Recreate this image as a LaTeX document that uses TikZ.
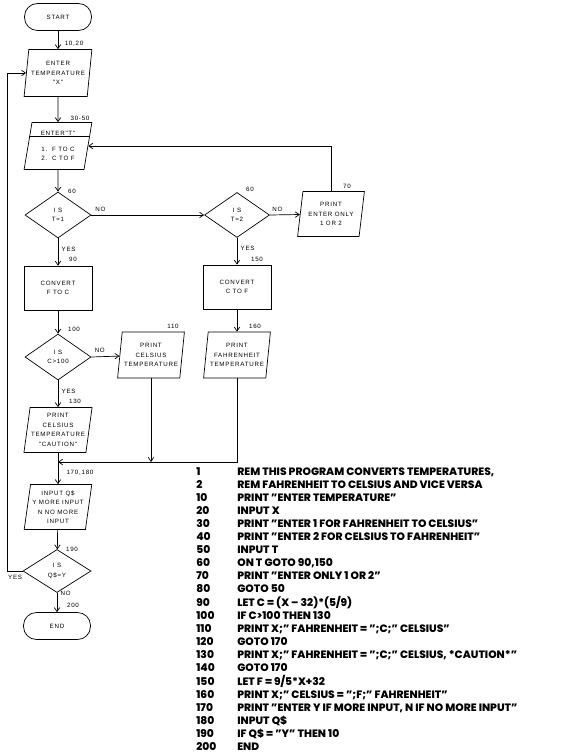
\documentclass[tikz,border=0pt]{standalone}
\usepackage{fontspec}
\usetikzlibrary{shapes.geometric,calc,arrows.meta}
\newfontfamily\flowfont[LetterSpace=12]{Liberation Sans}
\newfontfamily\listfont[Ligatures=TeX]{Poppins ExtraBold}

\tikzset{
    flow/.style={font=\flowfont\fontsize{6.2}{9.5}\selectfont, align=center},
    term/.style={flow, draw, rounded corners=13pt, minimum width=67pt, minimum height=27pt},
    io/.style={flow, draw, trapezium, trapezium left angle=80, trapezium right angle=100,
        trapezium stretches=true, minimum width=68pt, minimum height=47pt, inner sep=1pt},
    proc/.style={flow, draw, minimum width=68pt, minimum height=44pt},
    test/.style={flow, draw, diamond, minimum width=66pt, minimum height=46pt, inner sep=0pt},
    num/.style={flow},
    arr/.style={->}
}

\begin{document}
\begin{tikzpicture}[x=1pt, y=-1pt, line width=0.7pt, >={Straight Barb[length=4pt,width=5.5pt]}]
    \useasboundingbox (0,0) rectangle (564,754);
    % left column
    \node[term] (start) at (58,17) {START};
    \node[io] (enterX) at (58,73) {ENTER\\TEMPERATURE\\"X"};
    \node[io] (enterT) at (58,146) {ENTER"T"\\[6pt]1.\ \ F TO C\\2.\ \ C TO F};
    \draw ($(enterT.top left corner)!0.29!(enterT.bottom left corner)$) -- ($(enterT.top right corner)!0.29!(enterT.bottom right corner)$);
    \node[test] (isT1) at (58,215) {I S\\T=1};
    \node[proc] (convFC) at (58,288) {CONVERT\\F TO C};
    \node[test] (isC100) at (58,357) {I S\\C>100};
    \node[io, minimum width=66pt, minimum height=45pt] (printCaut) at (58,430) {PRINT\\CELSIUS\\TEMPERATURE\\"CAUTION"};
    \node[io, minimum height=45pt] (inputQ) at (58,507) {INPUT Q\$\\Y MORE INPUT\\N NO MORE\\INPUT};
    \node[test, minimum width=68pt, minimum height=43pt] (isQY) at (57,571) {I S\\Q\$=Y};
    \node[term] (finish) at (57,626) {END};
    % middle and right
    \node[io, minimum width=67pt, minimum height=46pt] (printC) at (151,355) {PRINT\\CELSIUS\\TEMPERATURE};
    \node[test, minimum width=65pt, minimum height=45pt] (isT2) at (237,215) {I S\\T=2};
    \node[io, minimum width=67pt, minimum height=45pt] (printOnly) at (331,214) {PRINT\\ENTER ONLY\\1 OR 2};
    \node[proc] (convCF) at (237,287) {CONVERT\\C TO F};
    \node[io, minimum width=67pt, minimum height=46pt] (printF) at (237,355) {PRINT\\FAHRENHEIT\\TEMPERATURE};
    \coordinate (join) at (58,462);
    % line numbers
    \node[num] (n10) at (74,44) {10,20};
    \node[num] (n30) at (80,118) {30-50};
    \node[num] (n60a) at (72,191) {60};
    \node[num] (n60b) at (250,189) {60};
    \node[num] (n70) at (347,186) {70};
    \node[num] (n90) at (73,259) {90};
    \node[num] (n150) at (257,259) {150};
    \node[num] (n100) at (74,329) {100};
    \node[num] (n110) at (173,326) {110};
    \node[num] (n160) at (255,326) {160};
    \node[num] (n130) at (75,401) {130};
    \node[num] (n170) at (80,473) {170,180};
    \node[num] (n190) at (72,549) {190};
    \node[num] (n200) at (73,605) {200};
    % connectors
    \draw[arr] (start) -- (enterX);
    \draw[arr] (enterX) -- (enterT);
    \draw[arr] (enterT) -- (isT1);
    \draw[arr] (isT1) -- node[num, right, pos=0.4] {YES} (convFC);
    \draw[arr] (isT1.east) -- node[num, pos=0.08, above] {NO} (isT2.west);
    \draw[arr] (isT2.east) -- node[num, pos=0.25, above] {NO} (printOnly);
    \draw[arr] (printOnly.north) |- (enterT.east);
    \draw[arr] (isT2) -- node[num, right, pos=0.4] {YES} (convCF);
    \draw[arr] (convCF) -- (printF);
    \draw[arr] (convFC) -- (isC100);
    \draw[arr] (isC100.east) -- node[num, pos=0.3, above] {NO} (printC);
    \draw[arr] (isC100) -- node[num, right, pos=0.4] {YES} (printCaut);
    \draw (printCaut) -- (join);
    \draw[arr] (printF.south) |- (join);
    \draw[arr] (printC.south) -- (printC.south |- join);
    \draw[arr] (join) -- (inputQ);
    \draw[arr] (inputQ) -- (isQY);
    \draw[arr] (isQY) -- node[num, right, pos=0.05] {NO} (finish);
    \draw[arr] (isQY.west) -- ++(-15,0) node[num, below, pos=0.5] {YES} |- (enterX.west);
    % program listing
    \node[anchor=north west, inner sep=0pt, font=\listfont\fontsize{10.7}{13}\selectfont] (listing) at (196,466) {%
        \begin{tabular}{@{}p{41pt}@{}l@{}}
        1 & REM THIS PROGRAM CONVERTS TEMPERATURES,\\
        2 & REM FAHRENHEIT TO CELSIUS AND VICE VERSA\\
        10 & PRINT ''ENTER TEMPERATURE''\\
        20 & INPUT X\\
        30 & PRINT ''ENTER 1 FOR FAHRENHEIT TO CELSIUS''\\
        40 & PRINT ''ENTER 2 FOR CELSIUS TO FAHRENHEIT''\\
        50 & INPUT T\\
        60 & ON T GOTO 90,150\\
        70 & PRINT ''ENTER ONLY 1 OR 2''\\
        80 & GOTO 50\\
        90 & LET C = (X -- 32)*(5/9)\\
        100 & IF C>100 THEN 130\\
        110 & PRINT X;'' FAHRENHEIT = '';C;'' CELSIUS''\\
        120 & GOTO 170\\
        130 & PRINT X;'' FAHRENHEIT = '';C;'' CELSIUS, *CAUTION*''\\
        140 & GOTO 170\\
        150 & LET F = 9/5*X+32\\
        160 & PRINT X;'' CELSIUS = '';F;'' FAHRENHEIT''\\
        170 & PRINT ''ENTER Y IF MORE INPUT, N IF NO MORE INPUT''\\
        180 & INPUT Q\$\\
        190 & IF Q\$ = ''Y'' THEN 10\\
        200 & END
        \end{tabular}};
\end{tikzpicture}
\end{document}
